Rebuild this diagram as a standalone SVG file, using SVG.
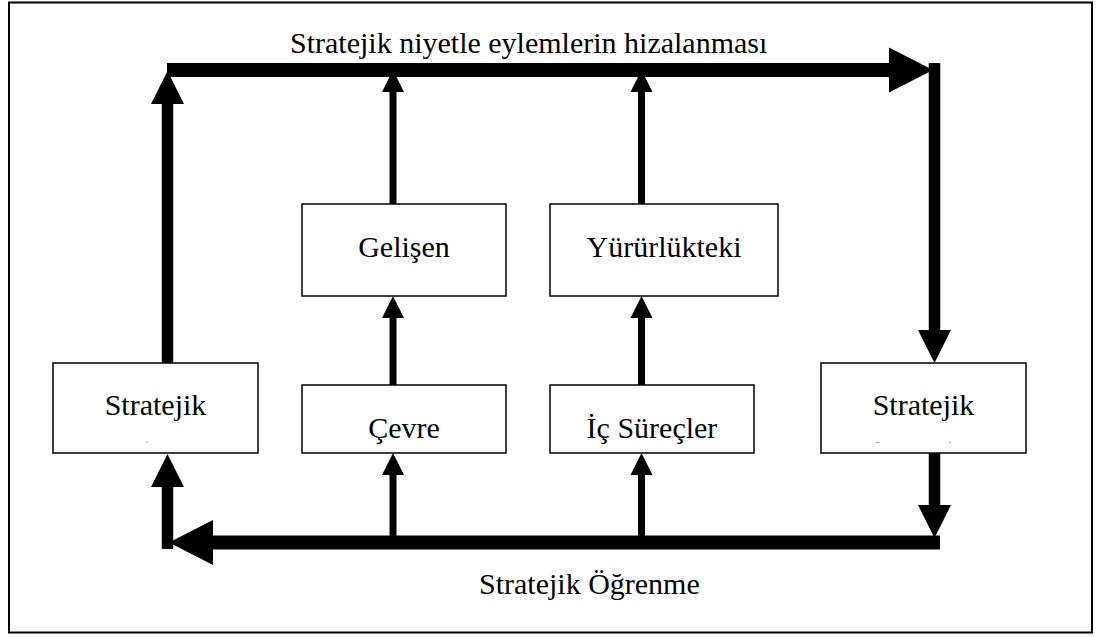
<svg xmlns="http://www.w3.org/2000/svg" width="1098" height="637" viewBox="0 0 1098 637">
  <defs>
    <style>
      .frame { fill: #ffffff; stroke: #000000; stroke-width: 2; }
      .box { fill: #ffffff; stroke: #000000; stroke-width: 1.5; }
      .mid { text-anchor: middle; }
      .thick-h { fill: none; stroke: #000000; stroke-width: 14; }
      .thick-v { fill: none; stroke: #000000; stroke-width: 11.5; }
      .thin { fill: none; stroke: #000000; stroke-width: 7; }
      .speck { fill: #b0b0b0; }
    </style>
    <!-- arrowheads: the shaft ends at the base, the head extends past it -->
    <marker id="headBigH" markerUnits="userSpaceOnUse" markerWidth="46" markerHeight="46" refX="0" refY="22.5" orient="auto" overflow="visible">
      <path d="M0,0 L44,22.5 L0,45 Z" fill="#000000"/>
    </marker>
    <marker id="headBigV" markerUnits="userSpaceOnUse" markerWidth="34" markerHeight="34" refX="0" refY="16.5" orient="auto" overflow="visible">
      <path d="M0,0 L33,16.5 L0,33 Z" fill="#000000"/>
    </marker>
    <marker id="headSmall" markerUnits="userSpaceOnUse" markerWidth="24" markerHeight="24" refX="0" refY="11" orient="auto" overflow="visible">
      <path d="M0,0 L22,11 L0,22 Z" fill="#000000"/>
    </marker>
  </defs>

  <rect class="frame" x="9" y="2.5" width="1083" height="630"/>

  <g font-family="'Liberation Serif', 'Times New Roman', 'DejaVu Serif', serif" font-size="30" fill="#000000">
    <text x="290" y="53">Stratejik niyetle eylemlerin hizalanması</text>
    <text x="479" y="594">Stratejik Öğrenme</text>

    <g id="node-strategy-left">
      <rect class="box" x="53" y="363" width="205" height="90"/>
      <text class="mid" x="155.5" y="415">Stratejik</text>
      <rect class="speck" x="146" y="441.5" width="2" height="1"/>
    </g>
    <g id="node-strategy-right">
      <rect class="box" x="821" y="363" width="205" height="90"/>
      <text class="mid" x="923.5" y="415">Stratejik</text>
      <rect class="speck" x="876" y="442" width="3" height="1"/>
      <rect class="speck" x="949" y="442" width="2" height="1"/>
    </g>
    <g id="node-emerging">
      <rect class="box" x="302" y="204" width="204" height="92"/>
      <text class="mid" x="404" y="257">Gelişen</text>
    </g>
    <g id="node-current">
      <rect class="box" x="550" y="204" width="228" height="92"/>
      <text class="mid" x="664" y="257">Yürürlükteki</text>
    </g>
    <g id="node-environment">
      <rect class="box" x="302" y="385" width="204" height="68"/>
      <text class="mid" x="404" y="438">Çevre</text>
    </g>
    <g id="node-internal">
      <rect class="box" x="550" y="385" width="204" height="68"/>
      <text class="mid" x="652" y="438">İç Süreçler</text>
    </g>
  </g>

  <g id="connectors">
    <!-- upper loop: alignment of intent and action -->
    <path class="thick-v" d="M167.5,363 V104" marker-end="url(#headBigV)"/>
    <path class="thick-h" d="M167,70 H889" marker-end="url(#headBigH)"/>
    <path class="thick-v" d="M934.5,63 V330" marker-end="url(#headBigV)"/>
    <!-- lower loop: strategic learning -->
    <path class="thick-v" d="M934.5,453 V505" marker-end="url(#headBigV)"/>
    <path class="thick-h" d="M940,542.5 H213" marker-end="url(#headBigH)"/>
    <path class="thick-v" d="M167.5,549 V487" marker-end="url(#headBigV)"/>
    <!-- inner columns -->
    <path class="thin" d="M393,536 V475" marker-end="url(#headSmall)"/>
    <path class="thin" d="M393,385 V318" marker-end="url(#headSmall)"/>
    <path class="thin" d="M393,204 V92" marker-end="url(#headSmall)"/>
    <path class="thin" d="M641.5,536 V475" marker-end="url(#headSmall)"/>
    <path class="thin" d="M641.5,385 V318" marker-end="url(#headSmall)"/>
    <path class="thin" d="M641.5,204 V92" marker-end="url(#headSmall)"/>
  </g>
</svg>
